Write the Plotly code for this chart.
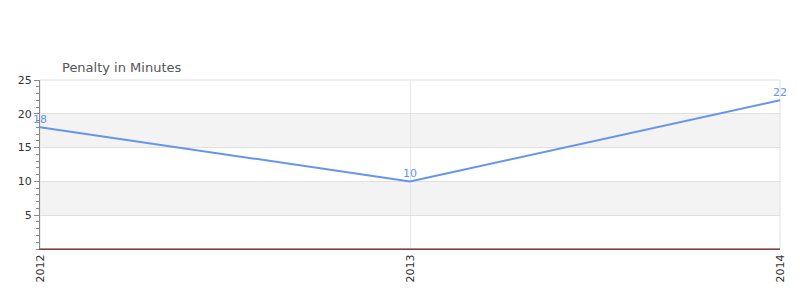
import plotly.graph_objects as go

years = [2012, 2013, 2014]
penalty_minutes = [18, 10, 22]
y_ticks = [5, 10, 15, 20, 25]
bands = [(15, 20), (5, 10)]

fig = go.Figure()
fig.add_trace(go.Scatter(
    x=years, y=penalty_minutes, mode="lines",
    line=dict(color="#6495ED", width=2), cliponaxis=False, hoverinfo="x+y",
))
for xv, yv in zip(years, penalty_minutes):
    fig.add_annotation(x=xv, y=yv, text=str(yv), showarrow=False, yanchor="bottom",
                       yshift=-1, font=dict(color="#6495ED", size=11, family="DejaVu Sans"))
for lo, hi in bands:
    fig.add_shape(type="rect", xref="paper", x0=0, x1=1, yref="y", y0=lo, y1=hi,
                  fillcolor="#f3f3f3", line_width=0, layer="below")
# plot frame (top/right light border)
fig.add_shape(type="rect", xref="paper", x0=0, x1=1, yref="paper", y0=0, y1=1,
              line=dict(color="#e0e0e0", width=1), layer="below")
# red zero line
fig.add_shape(type="line", xref="paper", x0=0, x1=1, yref="y", y0=0, y1=0,
              line=dict(color="#cc0000", width=1), layer="above")

fig.update_layout(
    width=800, height=300, margin=dict(l=40, r=20, t=80, b=51),
    paper_bgcolor="white", plot_bgcolor="white", showlegend=False,
    font=dict(family="DejaVu Sans", size=11, color="#333"),
    title=dict(text="Penalty in Minutes", xref="container", x=62/800, xanchor="left",
               yref="container", y=1-67/300, yanchor="middle",
               font=dict(size=13, color="#555", family="DejaVu Sans")),
)
fig.update_xaxes(
    range=[2012, 2014], tickvals=years, ticktext=[str(y) for y in years],
    tickangle=-90, showgrid=True, gridcolor="#e6e6e6", gridwidth=1,
    showline=True, linecolor="#555", linewidth=1, ticks="", zeroline=False,
    tickfont=dict(size=11, color="#333"), mirror=False,
)
fig.update_yaxes(
    range=[0, 25], tickvals=y_ticks, ticktext=[str(v) for v in y_ticks],
    showgrid=True, gridcolor="#e0e0e0", gridwidth=1, zeroline=False,
    showline=True, linecolor="#888", linewidth=1,
    ticks="outside", ticklen=5, tickcolor="#888",
    minor=dict(tickmode="linear", tick0=0, dtick=1, ticks="outside", ticklen=3,
               tickcolor="#888", showgrid=False),
    tickfont=dict(size=11, color="#333"),
)
fig.write_html("out.html")
